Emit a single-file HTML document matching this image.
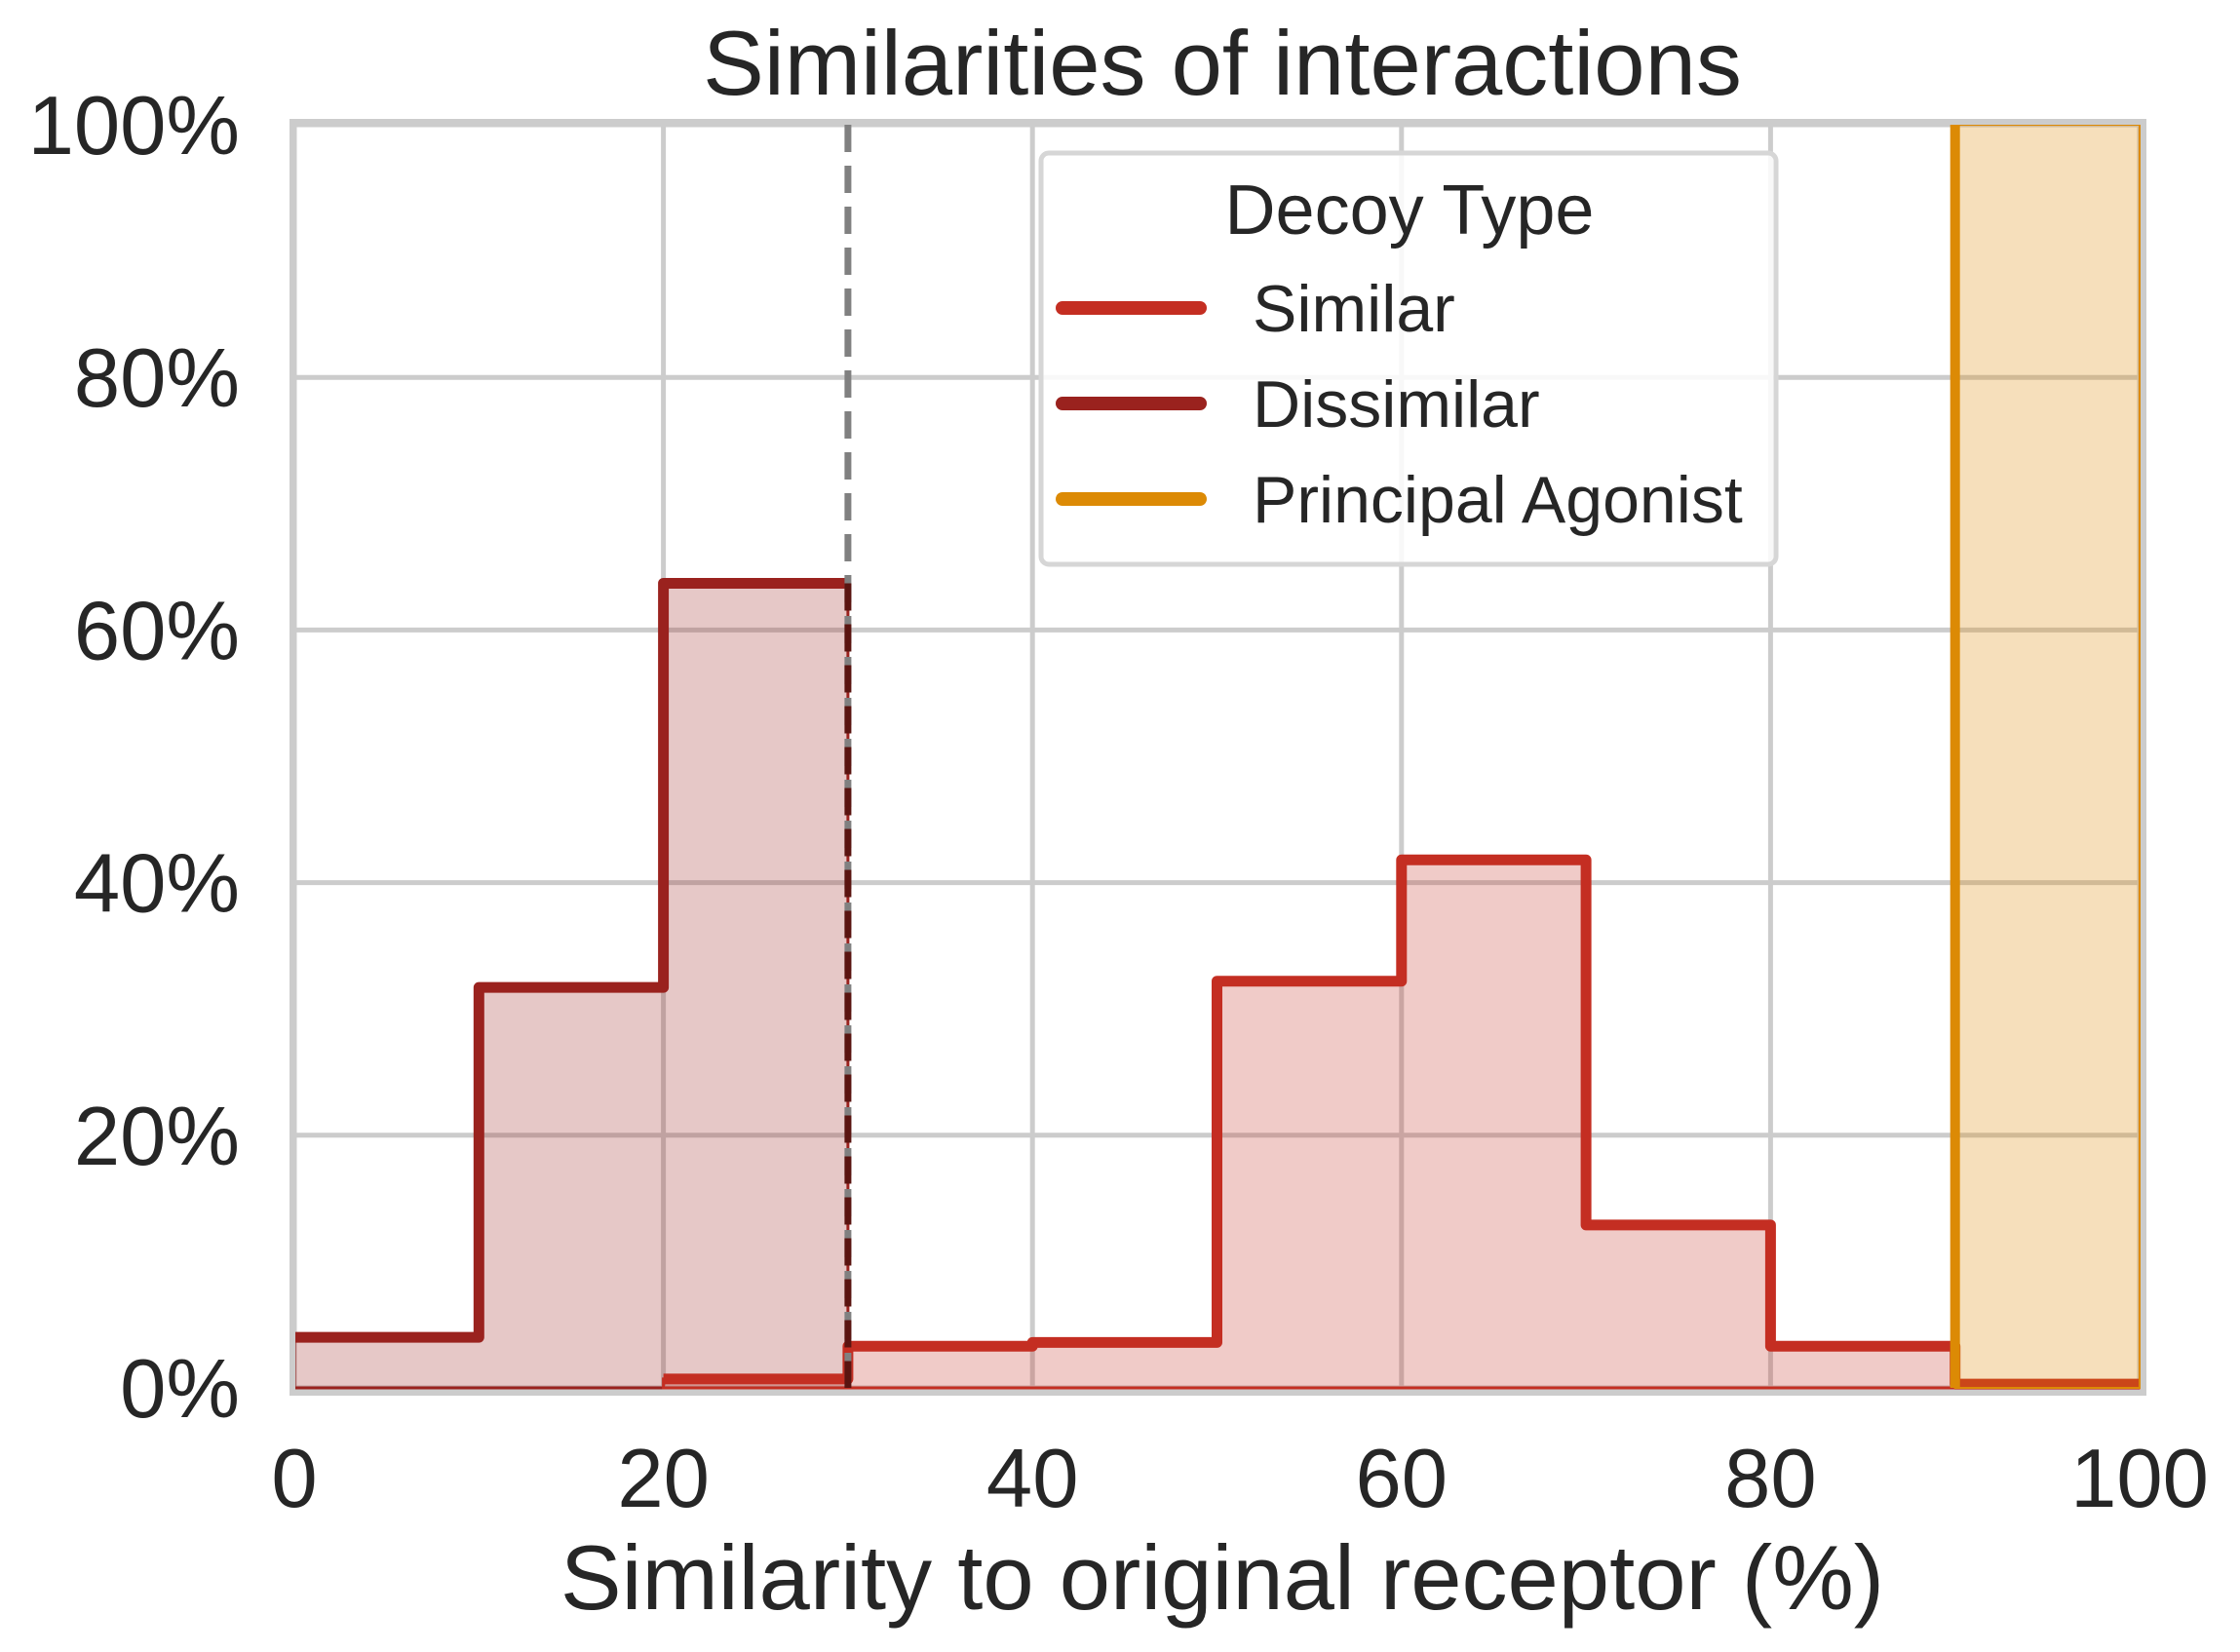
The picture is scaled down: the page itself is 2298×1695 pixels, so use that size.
<!DOCTYPE html>
<html><head><meta charset="utf-8">
<style>
html,body{margin:0;padding:0;background:#fff;}
svg{display:block;font-family:"Liberation Sans",Arial,sans-serif;}
</style></head>
<body>
<svg id="chart" width="2298" height="1695" viewBox="0 0 2298 1695"></svg>
<script>
const binEdges = [0,10,20,30,40,50,60,70,80,90,100];
const similarVals = [null,null,0.7,3.3,3.6,32.2,41.8,12.9,3.3,0.3];
const dissimilarVals = [4.0,31.7,63.7];
const dissimilarStart = 0;
const agonistVals = [100];
const agonistStart = 90;
const xTicks = [0,20,40,60,80,100];
const yTicks = [0,20,40,60,80,100];
const thresholdX = 30;

const NS="http://www.w3.org/2000/svg";
const svg=document.getElementById('chart');
const X0=302,X1=2195,Y0=1424,Y1=128;
const sx=v=>X0+(v/100)*(X1-X0);
const sy=v=>Y0-(v/100)*(Y0-Y1);
function mk(tag,attrs,parent){const e=document.createElementNS(NS,tag);for(const k in attrs)e.setAttribute(k,attrs[k]);(parent||svg).appendChild(e);return e;}

const grid=mk('g',{});


xTicks.forEach(t=>{const l=mk('line',{x1:sx(t),x2:sx(t),y1:Y1,y2:Y0,stroke:'#cccccc','stroke-width':5},grid);

});
yTicks.forEach(t=>{const l=mk('line',{x1:X0,x2:X1,y1:sy(t),y2:sy(t),stroke:'#cccccc','stroke-width':5},grid);

});

function stepPath(vals,start,w){
  let d='',first=true;
  vals.forEach((v,i)=>{ if(v===null) return;
    const a=start+i*w,b=a+w;
    if(first){d+=`M${sx(a)},${sy(v)}`;first=false;} else d+=`L${sx(a)},${sy(v)}`;
    d+=`L${sx(b)},${sy(v)}`;});
  return d;
}
function fillPath(vals,start,w){
  let pts=[];let s=null,e=null;
  vals.forEach((v,i)=>{ if(v===null) return; const a=start+i*w,b=a+w; if(s===null)s=a; e=b; pts.push([sx(a),sy(v)],[sx(b),sy(v)]);});
  return `M${sx(s)},${Y0}`+pts.map(p=>`L${p[0]},${p[1]}`).join('')+`L${sx(e)},${Y0}Z`;
}
function series(name,vals,start,color,fill){
  const g=mk('g',{});
  
  
  const f=mk('path',{d:fillPath(vals,start,10),fill:fill,stroke:color,'stroke-width':3},g);
  
  
  const p=mk('path',{d:stepPath(vals,start,10),fill:'none',stroke:color,'stroke-width':11,'stroke-linejoin':'round'},g);
  
  
}
series('dissimilar',dissimilarVals,dissimilarStart,'#9a221e','rgba(154,34,30,0.25)');
series('similar',similarVals,0,'#c42e22','rgba(196,46,34,0.25)');
(function(){
  const g=mk('g',{});
  
  
  const v=agonistVals[0];
  const r=mk('rect',{x:sx(agonistStart),y:sy(v),width:sx(agonistStart+10)-sx(agonistStart),height:Y0-sy(v),fill:'rgba(220,138,5,0.27)',stroke:'#dc8a05','stroke-width':2},g);
  
  
  const l=mk('line',{x1:sx(agonistStart),x2:sx(agonistStart),y1:sy(v),y2:Y0,stroke:'#dc8a05','stroke-width':10},g);
  
  
})();
const th=mk('line',{x1:sx(thresholdX),x2:sx(thresholdX),y1:Y1,y2:Y0,stroke:'#808080','stroke-width':7,'stroke-dasharray':'28,14'});


const th2=mk('line',{x1:sx(thresholdX),x2:sx(thresholdX),y1:sy(dissimilarVals[2]),y2:Y0,stroke:'#5a1410','stroke-width':7,'stroke-dasharray':'28,14'});



const sp=mk('rect',{x:X0-2,y:Y1-3,width:X1-X0+6,height:Y0-Y1+8,fill:'none',stroke:'#cccccc','stroke-width':6});



xTicks.forEach(t=>{const e=mk('text',{x:sx(t),y:1546,'text-anchor':'middle','font-size':85,fill:'#262626'});e.textContent=t;

});
yTicks.forEach(t=>{const e=mk('text',{x:246,y:sy(t)+30,'text-anchor':'end','font-size':85,fill:'#262626'});e.textContent=t+'%';

});

const title=mk('text',{x:1254,y:97,'text-anchor':'middle','font-size':94,fill:'#262626'});title.textContent='Similarities of interactions';


const xl=mk('text',{x:1254,y:1651,'text-anchor':'middle','font-size':94,fill:'#262626'});xl.textContent='Similarity to original receptor (%)';



const lg=mk('g',{});


const lb=mk('rect',{x:1068,y:157,width:754,height:422,rx:8,fill:'rgba(255,255,255,0.85)',stroke:'#d6d6d6','stroke-width':5},lg);


const lt=mk('text',{x:1446,y:240,'text-anchor':'middle','font-size':72,fill:'#262626'},lg);lt.textContent='Decoy Type';


const entries=[['Similar','#c42e22',316],['Dissimilar','#9a221e',414],['Principal Agonist','#dc8a05',512]];
entries.forEach(en=>{
  const g=mk('g',{},lg);
  
  
  mk('line',{x1:1090,x2:1231,y1:en[2],y2:en[2],stroke:en[1],'stroke-width':14,'stroke-linecap':'round'},g);
  const t=mk('text',{x:1285,y:en[2]+24,'font-size':68,fill:'#262626'},g);t.textContent=en[0];
});
</script>
</body></html>
